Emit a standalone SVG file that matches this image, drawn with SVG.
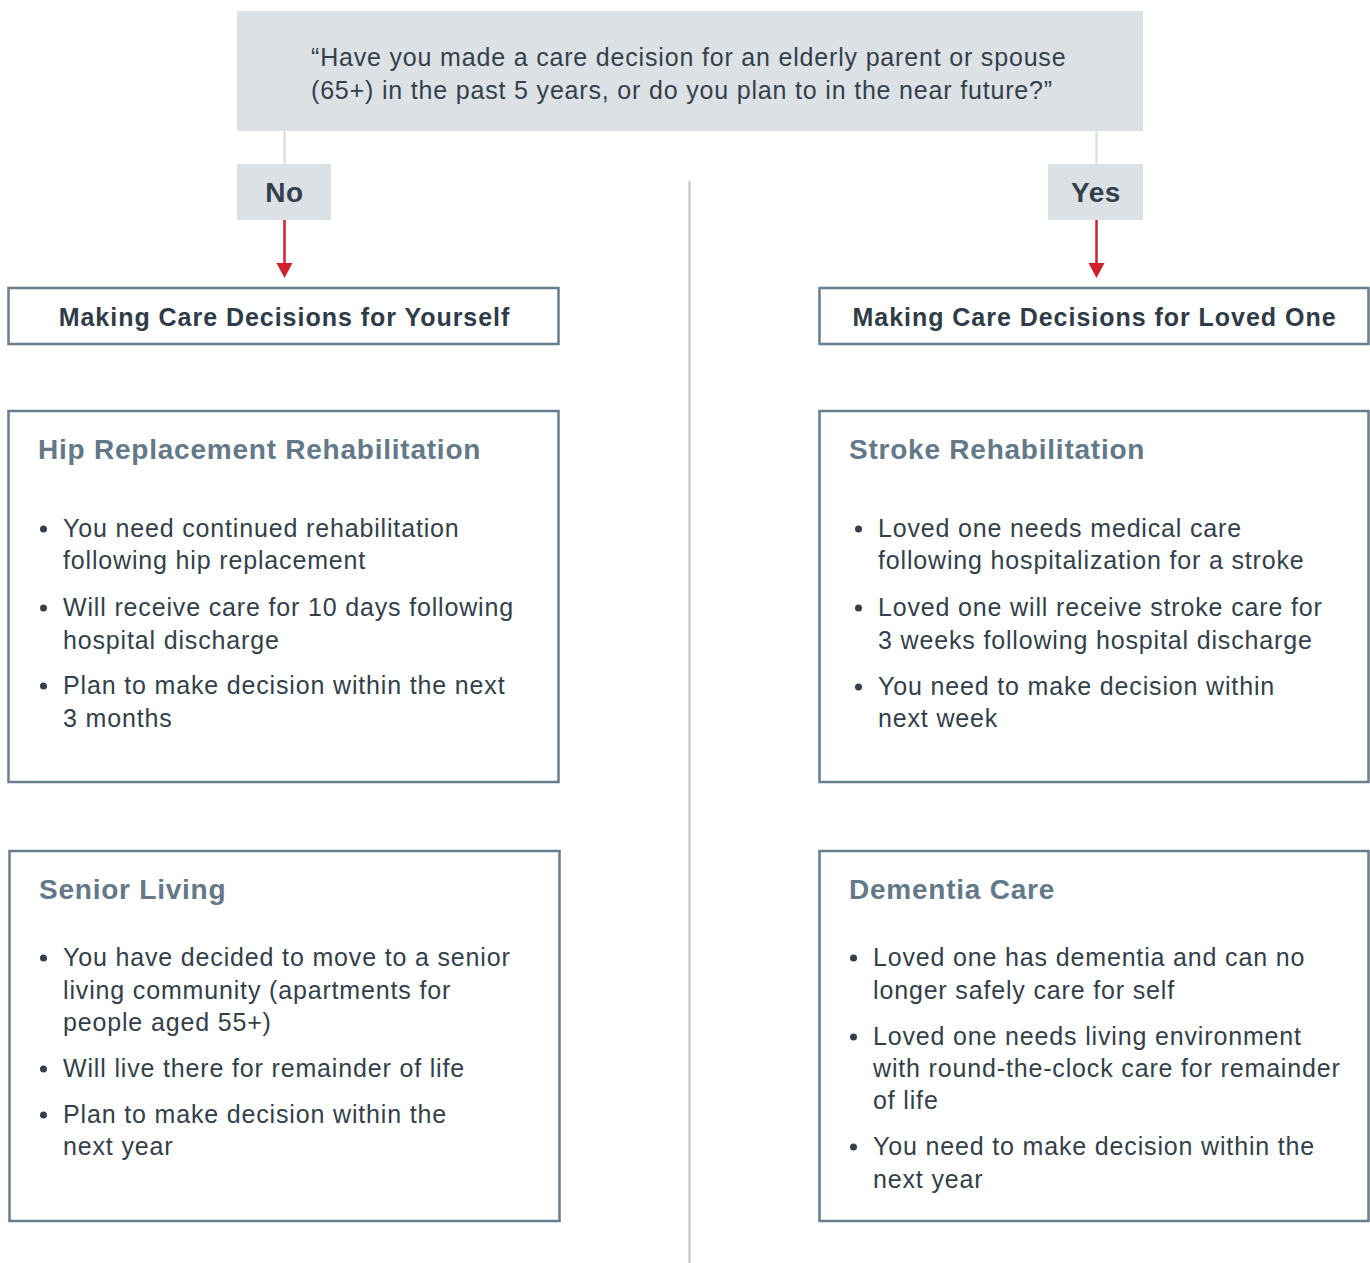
<svg xmlns="http://www.w3.org/2000/svg" width="1370" height="1263" viewBox="0 0 1370 1263">
<defs>
<style>
.q{fill:#dce1e6}
.qt{font-family:"Liberation Sans",Arial,sans-serif;font-size:25px;fill:#333f4a;letter-spacing:0.82px}
.yn{font-family:"Liberation Sans",Arial,sans-serif;font-size:28px;font-weight:bold;fill:#333f4a;letter-spacing:0.5px}
.hb{fill:#fff;stroke:#687d8d;stroke-width:2.5}
.ht{font-family:"Liberation Sans",Arial,sans-serif;font-size:25px;font-weight:bold;fill:#2f3b47;letter-spacing:0.97px}
.ti{font-family:"Liberation Sans",Arial,sans-serif;font-size:28px;font-weight:bold;fill:#637889;letter-spacing:0.77px}
.b{font-family:"Liberation Sans",Arial,sans-serif;font-size:25px;fill:#333f4a;letter-spacing:0.84px}
.dot{fill:#333f4a}
.stub{stroke:#dce1e6;stroke-width:2.5;fill:none}
.red{stroke:#d0202e;stroke-width:2.5;fill:none}
.div{stroke:#c5ced6;stroke-width:2.5;fill:none}
</style>
</defs>
<rect width="1370" height="1263" fill="#fff"/>

<g id="connectors">
<line class="stub" x1="284.5" y1="131" x2="284.5" y2="164"/>
<line class="stub" x1="1096.5" y1="131" x2="1096.5" y2="164"/>
<line class="red" x1="284.5" y1="220" x2="284.5" y2="264"/>
<path d="M276.5,263 L292.5,263 L284.5,278 Z" fill="#d0202e"/>
<line class="red" x1="1096.5" y1="220" x2="1096.5" y2="264"/>
<path d="M1088.5,263 L1104.5,263 L1096.5,278 Z" fill="#d0202e"/>
<line class="div" x1="689.5" y1="181" x2="689.5" y2="1263"/>
</g>

<g id="question">
<rect class="q" x="237" y="11" width="906" height="120"/>
<text class="qt" x="311" y="66">“Have you made a care decision for an elderly parent or spouse</text>
<text class="qt" x="311" y="99">(65+) in the past 5 years, or do you plan to in the near future?”</text>
</g>

<g id="no">
<rect class="q" x="237" y="164" width="94" height="56"/>
<text class="yn" x="284.5" y="202" text-anchor="middle">No</text>
</g>

<g id="yes">
<rect class="q" x="1048" y="164" width="95" height="56"/>
<text class="yn" x="1096" y="202" text-anchor="middle">Yes</text>
</g>

<g id="yourself">
<rect class="hb" x="8.5" y="288" width="550" height="56"/>
<text class="ht" x="284.5" y="326" text-anchor="middle">Making Care Decisions for Yourself</text>
</g>

<g id="lovedone">
<rect class="hb" x="819.5" y="288" width="549" height="56"/>
<text class="ht" x="1094.5" y="326" text-anchor="middle">Making Care Decisions for Loved One</text>
</g>

<g id="hip">
<rect class="hb" x="8.5" y="411" width="550" height="371"/>
<text class="ti" x="38" y="459">Hip Replacement Rehabilitation</text>
<circle class="dot" cx="43.5" cy="529" r="3.5"/>
<text class="b" x="63" y="537">You need continued rehabilitation</text>
<text class="b" x="63" y="569">following hip replacement</text>
<circle class="dot" cx="43.5" cy="608" r="3.5"/>
<text class="b" x="63" y="616">Will receive care for 10 days following</text>
<text class="b" x="63" y="649">hospital discharge</text>
<circle class="dot" cx="43.5" cy="686" r="3.5"/>
<text class="b" x="63" y="694">Plan to make decision within the next</text>
<text class="b" x="63" y="727">3 months</text>
</g>

<g id="stroke">
<rect class="hb" x="819.5" y="411" width="549" height="371"/>
<text class="ti" x="849" y="459">Stroke Rehabilitation</text>
<circle class="dot" cx="858.5" cy="529" r="3.5"/>
<text class="b" x="878" y="537">Loved one needs medical care</text>
<text class="b" x="878" y="569">following hospitalization for a stroke</text>
<circle class="dot" cx="858.5" cy="608" r="3.5"/>
<text class="b" x="878" y="616">Loved one will receive stroke care for</text>
<text class="b" x="878" y="649">3 weeks following hospital discharge</text>
<circle class="dot" cx="858.5" cy="687" r="3.5"/>
<text class="b" x="878" y="695">You need to make decision within</text>
<text class="b" x="878" y="727">next week</text>
</g>

<g id="senior">
<rect class="hb" x="9.5" y="851" width="550" height="370"/>
<text class="ti" x="39" y="899">Senior Living</text>
<circle class="dot" cx="43.5" cy="958" r="3.5"/>
<text class="b" x="63" y="966">You have decided to move to a senior</text>
<text class="b" x="63" y="999">living community (apartments for</text>
<text class="b" x="63" y="1031">people aged 55+)</text>
<circle class="dot" cx="43.5" cy="1069" r="3.5"/>
<text class="b" x="63" y="1077">Will live there for remainder of life</text>
<circle class="dot" cx="43.5" cy="1115" r="3.5"/>
<text class="b" x="63" y="1123">Plan to make decision within the</text>
<text class="b" x="63" y="1155">next year</text>
</g>

<g id="dementia">
<rect class="hb" x="819.5" y="851" width="549" height="370"/>
<text class="ti" x="849" y="899">Dementia Care</text>
<circle class="dot" cx="853.5" cy="958" r="3.5"/>
<text class="b" x="873" y="966">Loved one has dementia and can no</text>
<text class="b" x="873" y="999">longer safely care for self</text>
<circle class="dot" cx="853.5" cy="1037" r="3.5"/>
<text class="b" x="873" y="1045">Loved one needs living environment</text>
<text class="b" x="873" y="1077">with round-the-clock care for remainder</text>
<text class="b" x="873" y="1109">of life</text>
<circle class="dot" cx="853.5" cy="1147" r="3.5"/>
<text class="b" x="873" y="1155">You need to make decision within the</text>
<text class="b" x="873" y="1188">next year</text>
</g>
</svg>
